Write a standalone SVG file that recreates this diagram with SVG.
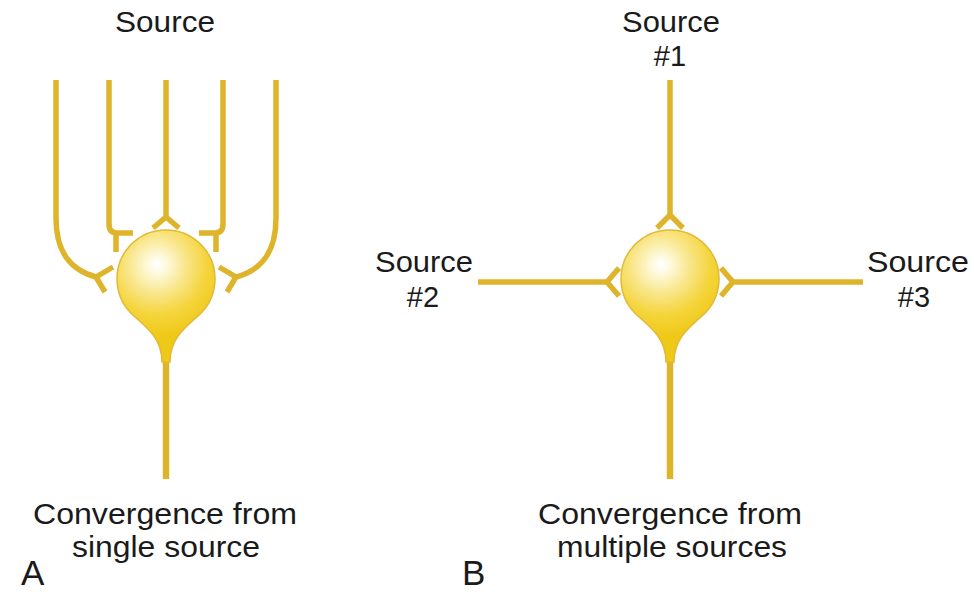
<svg xmlns="http://www.w3.org/2000/svg" width="974" height="592" viewBox="0 0 974 592">
<style>
.t{font-family:"Liberation Sans",Arial,sans-serif;font-size:29px;fill:#1a1a1a;text-anchor:middle}
.big{font-family:"Liberation Sans",Arial,sans-serif;font-size:35px;fill:#1a1a1a}
.d{fill:none;stroke:#deb42b;stroke-width:5.5;stroke-linecap:butt;stroke-linejoin:round}
.soma{fill:url(#sg);stroke:#e2b936;stroke-width:1.5}
</style>
<defs>
<radialGradient id="sg" gradientUnits="userSpaceOnUse" cx="-9" cy="-14" r="72" fx="-9" fy="-14">
<stop offset="0" stop-color="#ffffff"/>
<stop offset="0.12" stop-color="#fefae0"/>
<stop offset="0.4" stop-color="#f9e68a"/>
<stop offset="0.7" stop-color="#f4d43a"/>
<stop offset="1" stop-color="#efc918"/>
</radialGradient>
</defs>
<rect width="974" height="592" fill="#ffffff"/>

<g id="connectors">
<path class="d" d="M56,80 V218 C56,252 70,270 96,277 M113,267 L96,277 L105,292"/>
<path class="d" d="M109,80 V224 Q109,233 117,233 H133 M116,233 V252"/>
<path class="d" d="M166,80 V217 M153,228 L166,217 L179,228"/>
<path class="d" d="M223,80 V224 Q223,233 215,233 H199 M216,233 V252"/>
<path class="d" d="M276,80 V218 C276,252 262,270 236,277 M219,267 L236,277 L227,292"/>
<path class="d" d="M670,80 V215 M657,228 L670,215 L683,228"/>
<path class="d" d="M478,282 H607 M619,268 L607,282 L619,296"/>
<path class="d" d="M863,282 H733 M721,268 L733,282 L721,296"/>
</g>

<g id="neuronA" transform="translate(166,279)">
<line x1="0" y1="78" x2="0" y2="200" stroke="#deb42b" stroke-width="6.5"/>
<path class="soma" d="M-4,83 C-4,61 -17,50 -32,37 A49,49 0 1 1 32,37 C17,50 4,61 4,83 Z"/>
</g>

<g id="neuronB" transform="translate(670,279)">
<line x1="0" y1="78" x2="0" y2="200" stroke="#deb42b" stroke-width="6.5"/>
<path class="soma" d="M-4,83 C-4,61 -17,50 -32,37 A49,49 0 1 1 32,37 C17,50 4,61 4,83 Z"/>
</g>

<g id="labels">
<text class="t" x="165" y="32" textLength="100" lengthAdjust="spacingAndGlyphs">Source</text>
<text class="t" x="671" y="32" textLength="98" lengthAdjust="spacingAndGlyphs">Source</text>
<text class="t" x="670" y="66">#1</text>
<text class="t" x="424" y="272" textLength="98" lengthAdjust="spacingAndGlyphs">Source</text>
<text class="t" x="423" y="307">#2</text>
<text class="t" x="918" y="272" textLength="102" lengthAdjust="spacingAndGlyphs">Source</text>
<text class="t" x="914" y="307">#3</text>
<text class="t" x="165" y="524" textLength="264" lengthAdjust="spacingAndGlyphs">Convergence from</text>
<text class="t" x="166" y="557" textLength="188" lengthAdjust="spacingAndGlyphs">single source</text>
<text class="t" x="670" y="524" textLength="264" lengthAdjust="spacingAndGlyphs">Convergence from</text>
<text class="t" x="672" y="557" textLength="230" lengthAdjust="spacingAndGlyphs">multiple sources</text>
<text class="big" x="21" y="585">A</text>
<text class="big" x="462" y="585">B</text>
</g>
</svg>
